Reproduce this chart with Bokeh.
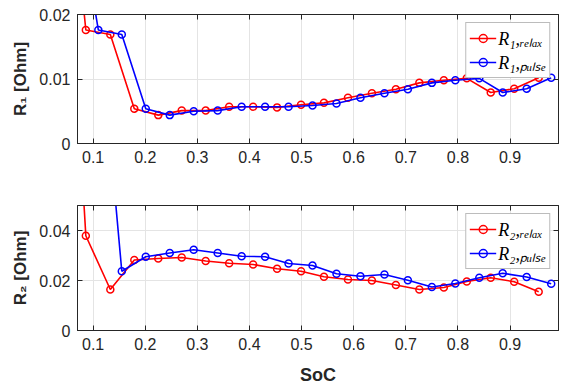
from bokeh.plotting import figure
from bokeh.layouts import column
from bokeh.models import LinearAxis, FixedTicker, Range1d, Legend, LegendItem, Title
from bokeh.embed import file_html
from bokeh.resources import INLINE

# ---- data ----
soc_relax = [0.040, 0.086, 0.133, 0.179, 0.225, 0.270, 0.316, 0.361, 0.407, 0.453, 0.499,
             0.543, 0.589, 0.635, 0.681, 0.726, 0.773, 0.817, 0.863, 0.908, 0.955]
soc_pulse = [0.064, 0.110, 0.155, 0.201, 0.247, 0.293, 0.339, 0.385, 0.430, 0.475, 0.521,
             0.567, 0.613, 0.659, 0.704, 0.750, 0.795, 0.841, 0.886, 0.932, 0.979]

r1_relax = [0.0544, 0.0176, 0.0169, 0.0054, 0.0044, 0.0051, 0.0051, 0.0057, 0.0057, 0.0056, 0.0060,
            0.0063, 0.0071, 0.0078, 0.0084, 0.0094, 0.0098, 0.0101, 0.0079, 0.0085, 0.0102]
r1_pulse = [0.0397, 0.0176, 0.0169, 0.0054, 0.0044, 0.0050, 0.0051, 0.0057, 0.0057, 0.0057, 0.0059,
            0.0062, 0.0071, 0.0078, 0.0084, 0.0094, 0.0098, 0.0101, 0.0079, 0.0085, 0.0102]

r2_relax = [0.20, 0.0379, 0.0164, 0.0282, 0.0288, 0.0292, 0.0278, 0.0269, 0.0264, 0.0247, 0.0237,
            0.0215, 0.0204, 0.0200, 0.0182, 0.0164, 0.0172, 0.0196, 0.0211, 0.0195, 0.0155]
r2_pulse = [0.15, 0.128, 0.0237, 0.0295, 0.0310, 0.0323, 0.0310, 0.0297, 0.0295, 0.0268, 0.0260,
            0.0227, 0.0217, 0.0224, 0.0201, 0.0174, 0.0188, 0.0211, 0.0229, 0.0214, 0.0187]

x_ticks = [0.1, 0.2, 0.3, 0.4, 0.5, 0.6, 0.7, 0.8, 0.9]
x_tick_labels = ["0.1", "0.2", "0.3", "0.4", "0.5", "0.6", "0.7", "0.8", "0.9"]
y1_ticks = [0, 0.01, 0.02]
y1_tick_labels = ["0", "0.01", "0.02"]
y2_ticks = [0, 0.02, 0.04]
y2_tick_labels = ["0", "0.02", "0.04"]

legend1 = ["R\u2081,\u1d63\u2091\u2097\u2090\u2093", "R\u2081,\u209a\u1d64\u2097\u209b\u2091"]
legend2 = ["R\u2082,\u1d63\u2091\u2097\u2090\u2093", "R\u2082,\u209a\u1d64\u2097\u209b\u2091"]
ylabel1 = "R\u2081 [Ohm]"
ylabel2 = "R\u2082 [Ohm]"
xlabel = "SoC"

AX = "#262626"
GRID = "#e4e4e4"
FONT = "Liberation Sans"


def style_axis(ax, ticks, labels=None, show_labels=True):
    ax.ticker = FixedTicker(ticks=ticks)
    ax.axis_line_color = AX
    ax.axis_line_width = 1
    ax.major_tick_line_color = AX
    ax.major_tick_in = 5
    ax.major_tick_out = 0
    ax.minor_tick_line_color = None
    ax.major_label_text_color = AX
    ax.major_label_text_font = FONT
    if show_labels:
        ax.major_label_overrides = {t: l for t, l in zip(ticks, labels)}
        ax.major_label_text_font_size = "16px"
        ax.major_label_standoff = 7
    else:
        ax.major_label_overrides = {t: "" for t in ticks}
        ax.major_label_text_font_size = "1px"
        ax.major_label_standoff = 0


def panel(height, min_top, min_bottom, ylim, yticks, ylabels, ylab, yr, yp, labs, show_xlabel):
    p = figure(width=561, height=height, output_backend="svg", toolbar_location=None,
               x_range=Range1d(0.07, 0.993), y_range=Range1d(*ylim),
               min_border_left=77, min_border_right=3, min_border_top=min_top,
               min_border_bottom=min_bottom)
    p.outline_line_color = AX
    p.background_fill_color = "white"
    p.border_fill_color = "white"
    style_axis(p.xaxis[0], x_ticks, x_tick_labels)
    style_axis(p.yaxis[0], yticks, ylabels)
    ytitle = Title(text=ylab, align="center", offset=14, standoff=13,
                   text_font=FONT, text_font_style="bold", text_font_size="17px",
                   text_color=AX)
    p.add_layout(ytitle, "left")
    if show_xlabel:
        p.xaxis[0].axis_label = xlabel
        p.xaxis[0].axis_label_text_font = FONT
        p.xaxis[0].axis_label_text_font_style = "bold"
        p.xaxis[0].axis_label_text_font_size = "18px"
        p.xaxis[0].axis_label_text_color = AX
        p.xaxis[0].axis_label_standoff = 12
    top = LinearAxis()
    style_axis(top, x_ticks, show_labels=False)
    p.add_layout(top, "above")
    right = LinearAxis()
    style_axis(right, yticks, show_labels=False)
    p.add_layout(right, "right")

    p.xgrid.ticker = FixedTicker(ticks=x_ticks)
    p.ygrid.ticker = FixedTicker(ticks=yticks)
    p.xgrid.grid_line_color = GRID
    p.ygrid.grid_line_color = GRID

    lr = p.line(soc_relax, yr, line_color="#ff0000", line_width=1.6)
    sr = p.scatter(soc_relax, yr, size=7, marker="circle", fill_color=None,
                   line_color="#ff0000", line_width=1.5)
    lp = p.line(soc_pulse, yp, line_color="#0000ff", line_width=1.6)
    sp = p.scatter(soc_pulse, yp, size=7, marker="circle", fill_color=None,
                   line_color="#0000ff", line_width=1.5)
    leg = Legend(items=[LegendItem(label=labs[0], renderers=[lr, sr]),
                        LegendItem(label=labs[1], renderers=[lp, sp])],
                 location="top_right")
    leg.margin = 8
    leg.padding = 3
    leg.spacing = 0
    leg.glyph_width = 27
    leg.glyph_height = 20
    leg.label_height = 20
    leg.label_standoff = 2
    leg.label_text_font = "Liberation Serif"
    leg.label_text_font_style = "italic"
    leg.label_text_font_size = "18px"
    leg.label_text_color = "black"
    leg.border_line_color = "#7a7a7a"
    leg.border_line_width = 1.5
    leg.background_fill_color = "white"
    leg.background_fill_alpha = 1
    p.add_layout(leg)
    return p


p1 = panel(180, 14, 37, (0, 0.02), y1_ticks, y1_tick_labels, ylabel1, r1_relax, r1_pulse, legend1, False)
p2 = panel(207, 25, 53, (0, 0.05), y2_ticks, y2_tick_labels, ylabel2, r2_relax, r2_pulse, legend2, True)

layout = column(p1, p2, spacing=0)
open("out.html", "w").write(file_html(layout, INLINE))
